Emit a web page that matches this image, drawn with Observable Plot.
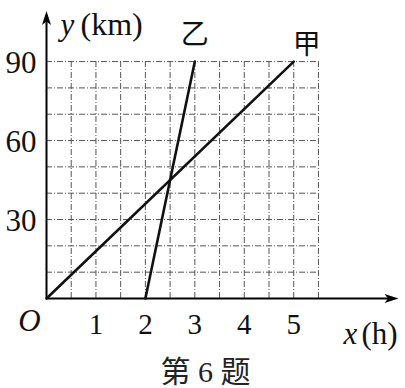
<!DOCTYPE html>
<html><head><meta charset="utf-8">
<script src="https://cdn.jsdelivr.net/npm/d3@7"></script>
<script src="https://cdn.jsdelivr.net/npm/@observablehq/plot@0.6"></script>
<style>body{margin:0;background:#fff}</style>
</head><body><div id="chart"></div>
<script>
const seriesNames = ["甲", "乙"];
const jiaX = [0, 5];
const jiaY = [0, 90];
const yiX = [2, 3];
const yiY = [0, 90];
const xTicks = [1, 2, 3, 4, 5];
const yTicks = [30, 60, 90];
const gridX = [0.5, 1, 1.5, 2, 2.5, 3, 3.5, 4, 4.5, 5, 5.5];
const gridY = [10, 20, 30, 40, 50, 60, 70, 80, 90];
const caption = "第 6 题";

const jia = jiaX.map((x, i) => ({x, y: jiaY[i]}));
const yi = yiX.map((x, i) => ({x, y: yiY[i]}));

const serif = "Liberation Serif, Times New Roman, serif";
const arrowSym = {draw(ctx) { ctx.moveTo(0, 0); ctx.lineTo(4.5, 14); ctx.lineTo(0, 10.5); ctx.lineTo(-4.5, 14); ctx.closePath(); }};

const chart = Plot.plot({
  width: 405, height: 388,
  marginLeft: 46, marginRight: 3, marginTop: 10, marginBottom: 90,
  x: {domain: [0, 7.2], axis: null},
  y: {domain: [0, 109.4], axis: null},
  style: {background: "#fff", overflow: "visible"},
  marks: [
    Plot.ruleX(gridX, {x: d => d, y1: 0, y2: 90, stroke: "#555", strokeWidth: 1, strokeDasharray: "6,2,1,2"}),
    Plot.ruleY(gridY, {y: d => d, x1: 0, x2: 5.5, stroke: "#555", strokeWidth: 1, strokeDasharray: "6,2,1,2"}),
    Plot.ruleY([0], {x1: 0, x2: 7.0, stroke: "#000", strokeWidth: 2}),
    Plot.ruleX([0], {y1: 0, y2: 106, stroke: "#000", strokeWidth: 2}),
    Plot.dot([{x: 7.12, y: 0}], {x: "x", y: "y", symbol: arrowSym, fill: "#000", stroke: "none", rotate: 90}),
    Plot.dot([{x: 0, y: 109.2}], {x: "x", y: "y", symbol: arrowSym, fill: "#000", stroke: "none"}),
    Plot.line(jia, {x: "x", y: "y", stroke: "#111", strokeWidth: 2.6}),
    Plot.line(yi, {x: "x", y: "y", stroke: "#111", strokeWidth: 2.6}),
    Plot.text([jia[1]], {x: "x", y: "y", text: () => seriesNames[0], dx: 13, dy: -17, fontSize: 28, fontFamily: "Noto Sans CJK SC", fill: "#111"}),
    Plot.text([yi[1]], {x: "x", y: "y", text: () => seriesNames[1], dx: 0, dy: -27, fontSize: 28, fontFamily: "Noto Sans CJK SC", fill: "#111"}),
    Plot.text(yTicks, {x: 0, y: d => d, text: d => String(d), dx: -10, dy: 2, textAnchor: "end", lineAnchor: "middle", fontSize: 31, fontFamily: serif, fill: "#111"}),
    Plot.text(xTicks, {x: d => d, y: 0, text: d => String(d), dy: 35, lineAnchor: "bottom", fontSize: 29, fontFamily: serif, fill: "#111"}),
    Plot.text(["O"], {x: 0, y: 0, text: d => d, dx: -17, dy: 32, lineAnchor: "bottom", fontSize: 31, fontStyle: "italic", fontFamily: serif, fill: "#111"}),
    Plot.text(["y"], {x: 0, y: 109.4, text: d => d, dx: 14, dy: 24, textAnchor: "start", lineAnchor: "bottom", fontSize: 31, fontStyle: "italic", fontFamily: serif, fill: "#111"}),
    Plot.text(["(km)"], {x: 0, y: 109.4, text: d => d, dx: 34, dy: 24, textAnchor: "start", lineAnchor: "bottom", fontSize: 32, fontFamily: serif, fill: "#111"}),
    Plot.text(["x"], {x: 0, y: 0, text: d => d, dx: 297, dy: 45, textAnchor: "start", lineAnchor: "bottom", fontSize: 31, fontStyle: "italic", fontFamily: serif, fill: "#111"}),
    Plot.text(["(h)"], {x: 0, y: 0, text: d => d, dx: 315, dy: 45, textAnchor: "start", lineAnchor: "bottom", fontSize: 31, fontFamily: serif, fill: "#111"}),
    Plot.text([caption], {x: 0, y: 0, text: d => d, dx: 159, dy: 83, textAnchor: "middle", lineAnchor: "bottom", fontSize: 30, fontFamily: "Liberation Serif, Noto Sans CJK SC", fill: "#222"})
  ]
});
document.getElementById("chart").appendChild(chart);
</script>
</body></html>
